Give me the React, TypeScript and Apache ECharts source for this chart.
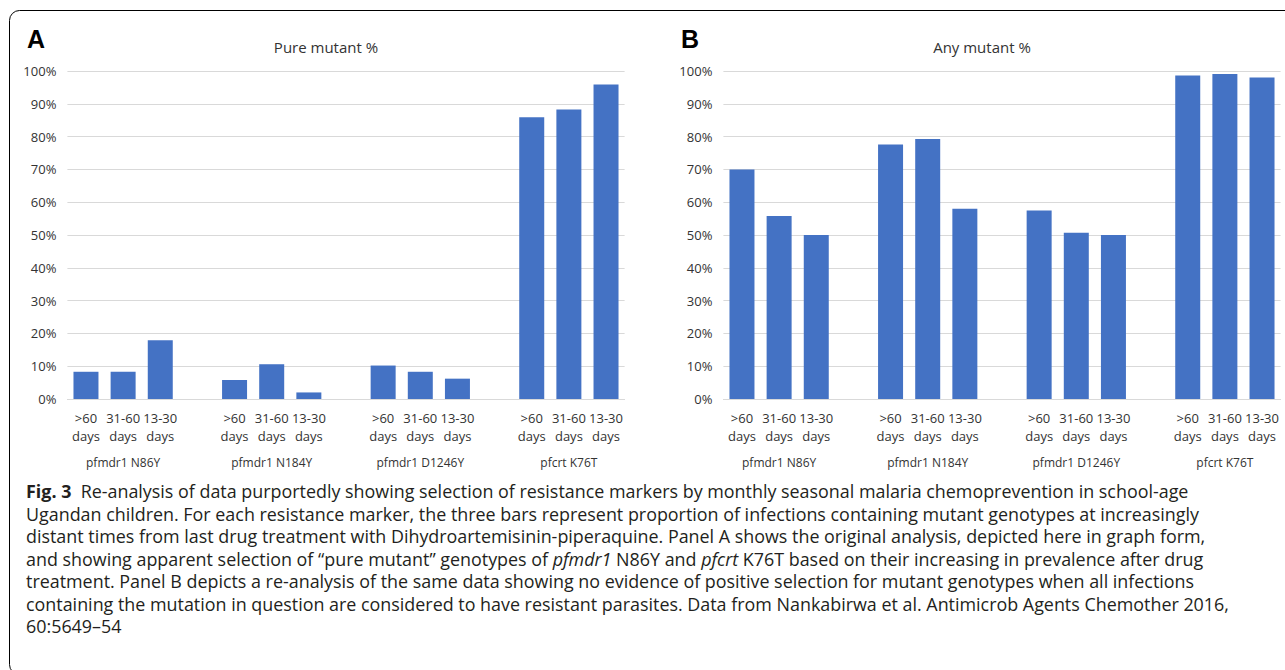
import React, { useEffect, useRef } from "react";
import * as echarts from "echarts";

const timeLabels = [">60\ndays", "31-60\ndays", "13-30\ndays"];
const markers = ["pfmdr1 N86Y", "pfmdr1 N184Y", "pfmdr1 D1246Y", "pfcrt K76T"];
const pureMutant = [
  [8.3, 8.3, 17.9],
  [5.8, 10.6, 2.0],
  [10.2, 8.3, 6.2],
  [85.9, 88.3, 95.9],
];
const anyMutant = [
  [70.0, 55.8, 50.0],
  [77.6, 79.3, 58.0],
  [57.5, 50.7, 50.0],
  [98.6, 99.1, 98.0],
];
const yTicks = { min: 0, max: 100, interval: 10 };
const panelTitles = ["Pure mutant %", "Any mutant %"];
const panelLetters = ["A", "B"];
const captionLines = [
  "{b|Fig. 3}  Re-analysis of data purportedly showing selection of resistance markers by monthly seasonal malaria chemoprevention in school-age",
  "Ugandan children. For each resistance marker, the three bars represent proportion of infections containing mutant genotypes at increasingly",
  "distant times from last drug treatment with Dihydroartemisinin-piperaquine. Panel A shows the original analysis, depicted here in graph form,",
  "and showing apparent selection of \u201cpure mutant\u201d genotypes of {i|pfmdr1} N86Y and {i|pfcrt} K76T based on their increasing in prevalence after drug",
  "treatment. Panel B depicts a re-analysis of the same data showing no evidence of positive selection for mutant genotypes when all infections",
  "containing the mutation in question are considered to have resistant parasites. Data from Nankabirwa et al. Antimicrob Agents Chemother 2016,",
  "60:5649\u201354",
];

const FONT = "'Open Sans', 'Noto Sans', sans-serif";
const BLUE = "#4472C4";
const GRID = "#D9D9D9";
const TXT = "#333333";
const CAP = 17.9;

function buildSlots() {
  const cats: string[] = [];
  const groupCats: string[] = [];
  markers.forEach((m, g) => {
    timeLabels.forEach((t, i) => {
      cats.push(t);
      groupCats.push(i === 1 ? m : "");
    });
    if (g < markers.length - 1) {
      cats.push("");
      groupCats.push("");
    }
  });
  return { cats, groupCats };
}

function buildData(values: number[][]) {
  const out: (number | string)[] = [];
  values.forEach((grp, g) => {
    grp.forEach((v) => out.push(v));
    if (g < values.length - 1) out.push("-");
  });
  return out;
}

export default function App() {
  const ref = useRef<HTMLDivElement>(null);
  useEffect(() => {
    if (!ref.current) return;
    const chart = echarts.init(ref.current, null, { renderer: "svg" });
    const { cats, groupCats } = buildSlots();
    const gridLefts = [67.4, 723.4];
    const gridW = 557.2;
    const grids = gridLefts.map((l) => ({ left: l, top: 71, width: gridW, height: 328 }));
    const xAxes: any[] = [];
    const yAxes: any[] = [];
    gridLefts.forEach((_, gi) => {
      xAxes.push({
        gridIndex: gi,
        type: "category",
        data: cats,
        axisTick: { show: false },
        axisLine: { lineStyle: { color: GRID, width: 1 } },
        axisLabel: { interval: 0, fontSize: 13, lineHeight: 18, color: TXT, margin: 10, fontFamily: FONT },
      });
      xAxes.push({
        gridIndex: gi,
        type: "category",
        position: "bottom",
        offset: 45,
        data: groupCats,
        axisTick: { show: false },
        axisLine: { show: false },
        axisLabel: { interval: 0, fontSize: 12, color: TXT, margin: 12, fontFamily: FONT },
      });
      yAxes.push({
        gridIndex: gi,
        type: "value",
        min: yTicks.min,
        max: yTicks.max,
        interval: yTicks.interval,
        axisLine: { show: false },
        axisTick: { show: false },
        splitLine: { lineStyle: { color: GRID, width: 1 } },
        axisLabel: { formatter: "{value}%", fontSize: 13, color: TXT, margin: 11, fontFamily: FONT },
      });
    });
    const series = [pureMutant, anyMutant].map((vals, gi) => ({
      type: "bar",
      xAxisIndex: gi * 2,
      yAxisIndex: gi,
      barWidth: 25,
      data: buildData(vals),
      itemStyle: { color: BLUE },
    }));

    const graphics: any[] = [
      {
        type: "rect",
        shape: { x: 9.5, y: 10.5, width: 1400, height: 664, r: 10 },
        style: { fill: "none", stroke: "#000", lineWidth: 1 },
        silent: true,
      },
    ];
    const letterX = [36, 690];
    const titleX = [326, 982];
    panelLetters.forEach((l, i) => {
      graphics.push({
        type: "text",
        x: letterX[i],
        y: 39,
        style: {
          text: l,
          fontSize: 25,
          fontWeight: "bold",
          fontFamily: "'Liberation Sans', Arial, sans-serif",
          fill: "#000",
          align: "center",
          verticalAlign: "middle",
        },
      });
      graphics.push({
        type: "text",
        x: titleX[i],
        y: 47,
        style: {
          text: panelTitles[i],
          fontSize: 15,
          fontFamily: FONT,
          fill: TXT,
          align: "center",
          verticalAlign: "middle",
        },
      });
    });
    captionLines.forEach((line, i) => {
      graphics.push({
        type: "text",
        x: 26,
        y: 491 + i * 22.5,
        style: {
          text: line,
          fontSize: CAP,
          fontFamily: FONT,
          fill: "#231F20",
          align: "left",
          verticalAlign: "middle",
          rich: {
            b: { fontSize: CAP, fontWeight: "bold", fontFamily: FONT, fill: "#231F20" },
            i: { fontSize: CAP, fontStyle: "italic", fontFamily: FONT, fill: "#231F20" },
          },
        },
      });
    });

    chart.setOption({
      animation: false,
      backgroundColor: "#ffffff",
      grid: grids,
      xAxis: xAxes,
      yAxis: yAxes,
      series,
      graphic: graphics,
    });
    return () => chart.dispose();
  }, []);
  return (
    <div style={{ position: "fixed", left: 0, top: 0, width: 1285, height: 670, background: "#fff" }}>
      <div ref={ref} style={{ width: 1285, height: 670 }} />
    </div>
  );
}
